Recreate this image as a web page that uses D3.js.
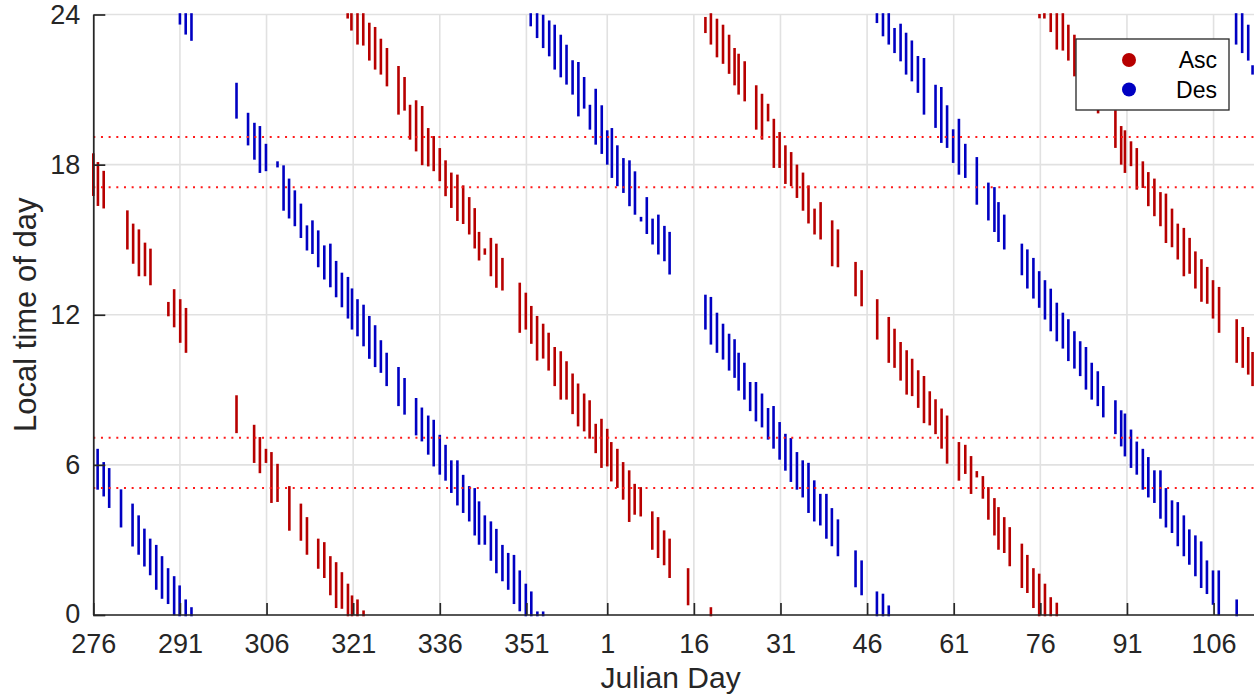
<!DOCTYPE html>
<html>
<head>
<meta charset="utf-8">
<script src="https://cdn.jsdelivr.net/npm/d3@7/dist/d3.min.js"></script>
<style>
  html, body { margin: 0; padding: 0; background: #fff; }
  svg { display: block; font-family: "Liberation Sans", Arial, Helvetica, sans-serif; }
</style>
</head>
<body>
<svg id="chart" width="1254" height="695"></svg>
<script>
// Day index runs on from the first year: day d of the following year is stored as d + 364.
const yearOffset = 364;

// Ascending passes: [day, lowest local hour, highest local hour] per daily column
const ascColumns = [
  [276.0,16.8,18.4],[276.8,16.4,18.05],[277.8,16.3,17.7],
  [281.9,14.66,16.12],[282.9,14.09,15.59],[283.9,13.59,15.36],[284.95,13.59,14.83],[285.9,13.23,14.59],
  [289.0,11.99,12.46],[290.0,11.55,12.97],[291.05,10.93,12.57],[292.05,10.53,12.22],
  [300.8,7.32,8.73],[303.85,6.13,7.55],[304.85,5.72,7.06],[305.9,6.13,6.59],[306.85,4.53,6.46],[307.9,4.57,5.99],
  [309.95,3.42,5.1],[311.95,3.02,4.4],[313.0,2.46,3.86],[314.95,1.9,3.0],[316.0,1.53,2.86],[317.05,0.84,2.3],
  [318.05,0.33,2.06],[319.05,0.3,1.66],[320.1,0,1.2],[320.8,0,0.73],[321.75,0,0.57],[322.8,0,0.13],
  [320.05,23.89,24],[320.7,23.41,24],[321.75,22.85,24],[322.75,22.81,24],[323.8,22.21,23.62],[324.8,21.85,23.45],
  [325.8,21.65,22.98],[326.85,21.18,22.61],[328.85,20.05,21.89],[329.9,20.21,21.45],[330.85,19.05,20.34],
  [331.9,18.58,20.52],[332.95,18.03,20.29],[334.0,17.98,19.41],[334.95,17.79,19.09],[336.0,17.39,18.61],
  [337.0,16.79,18.12],[338.0,16.32,17.63],[339.05,15.8,17.55],[340.05,15.68,17.12],[341.1,15.26,16.65],
  [342.05,14.7,16.21],[342.8,14.22,15.26],[343.8,14.45,14.6],[344.85,13.59,15.02],[345.8,13.13,14.79],
  [346.85,13.02,14.22],[349.85,11.33,13.23],[350.9,11.46,12.83],[351.85,10.89,12.3],[352.85,10.22,11.9],
  [353.9,10.3,11.59],[354.85,9.82,11.23],[355.9,9.2,10.66],[356.95,8.66,10.49],[357.95,8.66,10.09],
  [359.0,8.08,9.6],[359.95,7.59,9.2],[361.0,7.39,8.8],[361.95,7.1,8.53],[363.0,6.52,7.59],[364.0,5.93,7.79],
  [365.0,5.99,7.39],[365.7,5.39,6.86],[366.75,5.13,6.59],[367.75,4.66,6.06],[368.8,3.77,5.73],[369.75,4.06,5.19],
  [370.8,3.99,5.06],[372.8,2.66,4.09],[373.8,2.33,3.86],[374.85,2.04,3.33],[375.8,1.53,3.0],[379.0,0.44,1.82],
  [382.95,0,0.26],
  [382.0,23.31,23.85],[382.95,22.85,24],[384.0,22.34,23.78],[385.05,22.08,23.54],[386.1,21.68,23.14],
  [387.05,21.22,22.61],[387.75,20.85,22.38],[388.8,20.58,22.08],[390.8,19.45,21.12],[391.8,19.05,20.78],
  [392.85,19.78,20.38],[393.85,17.92,19.78],[394.85,17.92,19.25],[395.85,17.28,18.72],[396.85,17.19,18.45],
  [397.85,16.72,17.95],[398.9,16.21,17.63],[399.85,15.7,17.12],[400.9,15.26,16.19],[401.95,15.06,16.45],
  [403.95,13.99,15.72],[404.95,13.95,15.36],[408.0,12.79,14.06],[409.05,12.39,13.73],[411.75,11.06,12.57],
  [413.75,10.13,11.86],[414.75,9.93,11.39],[415.8,9.42,10.86],[416.85,8.86,10.53],[417.8,8.8,10.19],
  [418.85,8.33,9.73],[419.85,7.72,9.5],[420.85,7.63,8.89],[421.85,7.28,8.57],[422.9,6.7,8.2],[423.85,6.1,7.92],
  [425.9,5.42,6.86],[427.0,5.69,6.75],[428.0,4.89,6.3],[429.0,5.55,5.7],[430.05,4.7,5.5],[431.0,3.86,5.06],
  [432.05,3.23,4.62],[432.75,2.66,4.26],[433.75,2.53,3.86],[434.7,2.0,3.46],[436.8,1.13,2.8],[437.75,0.93,2.35],
  [438.8,0.33,1.82],[439.8,0,1.6],[440.8,0,1.2],[441.8,0,0.66],[442.85,0,0.44],
  [439.85,23.9,23.97],[440.7,23.89,24],[441.8,23.35,24],[442.85,22.65,24],[443.9,22.61,24],[444.85,22.21,23.54],
  [445.9,21.58,23.14],[450.0,20.1,20.3],[453.0,18.72,20.12],[454.0,18.05,19.49],[454.65,17.72,19.32],
  [455.7,17.99,18.88],[456.7,17.05,18.61],[457.75,17.12,18.08],[458.7,16.39,17.65],[459.75,15.99,17.39],
  [460.8,15.59,16.85],[461.75,14.92,16.79],[462.8,14.75,16.19],[463.8,14.26,15.59],[464.85,13.59,15.42],
  [465.85,13.69,15.02],[466.85,13.1,14.48],[467.9,12.57,14.17],[468.9,12.49,13.86],[469.9,11.9,13.33],
  [470.95,11.33,13.06],[474.0,10.13,11.77],[475.05,9.93,11.46],[476.0,9.66,11.06],[476.75,9.2,10.46]
];

// Descending passes: [day, lowest local hour, highest local hour] per daily column
const desColumns = [
  [276.75,5.06,6.59],[277.8,4.79,6.06],[278.75,4.33,5.82],[280.8,3.55,4.97],[282.8,2.79,4.4],[283.85,2.46,3.93],
  [284.85,1.99,3.4],[285.85,1.64,3.0],[286.9,1.06,2.75],[287.9,0.7,2.3],[288.95,0.49,1.82],[290.0,0.04,1.5],
  [290.95,0,1.13],[292.0,0,0.57],[293.0,0,0.26],
  [291.0,23.65,24],[292.0,23.25,24],[293.0,23.0,24],
  [300.8,19.89,21.22],[302.8,18.82,20.02],[303.9,18.25,19.62],[304.85,17.72,19.49],[305.9,17.79,18.78],
  [307.9,17.94,18.08],[308.95,16.21,17.92],[309.9,15.9,17.39],[310.9,15.59,16.92],[311.95,15.12,16.39],
  [313.0,14.62,15.52],[313.95,14.48,15.72],[314.95,13.95,15.32],[316.0,13.46,14.72],[317.05,13.15,14.79],
  [318.05,12.75,14.1],[319.05,12.35,13.63],[320.1,11.9,13.46],[320.8,11.46,13.0],[321.75,11.19,12.57],
  [322.8,10.79,12.35],[323.8,10.29,11.9],[324.8,9.96,11.53],[325.8,9.73,10.93],[326.8,9.2,10.43],
  [328.85,8.4,9.86],[329.9,8.06,9.42],[331.9,7.23,8.62],[332.9,6.99,8.24],[334.0,6.46,7.92],[334.95,5.99,7.75],
  [336.0,5.66,7.15],[337.0,5.42,6.75],[338.0,4.93,6.13],[339.05,4.43,6.13],[340.05,4.13,5.55],[341.1,3.79,5.1],
  [342.05,3.23,5.02],[342.8,2.86,4.49],[343.8,2.86,3.93],[344.85,2.22,3.69],[345.8,1.72,3.39],[346.85,1.4,2.75],
  [347.85,1.06,2.43],[348.85,0.49,2.35],[349.85,0.2,1.73],[350.9,0,1.2],[351.85,0,0.89],[352.9,0,0.09],[353.9,0,0.09],
  [351.75,23.58,24],[352.85,23.11,24],[353.9,22.71,23.94],[354.95,22.38,23.71],[355.9,21.85,23.54],
  [356.95,21.54,23.14],[357.95,21.25,22.74],[359.0,20.85,22.12],[360.0,19.98,22.05],[361.0,20.29,21.45],
  [362.0,19.45,20.34],[363.0,18.85,20.98],[364.05,18.48,20.32],[365.0,18.05,19.32],[365.8,17.52,19.41],
  [366.75,17.19,18.72],[367.8,16.92,18.21],[368.85,16.39,18.12],[369.8,16.05,17.68],[370.85,15.78,15.86],
  [371.85,15.28,16.65],[372.85,14.86,15.79],[373.85,14.46,15.95],[374.9,14.19,15.5],[375.8,13.66,15.26],
  [382.0,11.46,12.75],[382.95,10.86,12.66],[384.0,10.53,12.03],[385.05,10.26,11.59],[386.1,9.82,11.19],
  [387.05,9.53,10.97],[387.75,9.02,10.43],[388.75,8.66,10.03],[389.75,8.2,9.26],[390.75,7.79,9.26],
  [391.8,7.55,8.8],[392.85,7.06,8.22],[393.8,6.7,8.3],[394.85,6.26,7.66],[395.85,5.82,7.19],[396.8,5.37,7.02],
  [397.85,5.06,6.46],[398.85,4.75,6.13],[399.85,4.13,6.03],[400.85,3.79,5.33],[401.9,3.63,4.79],
  [402.95,3.1,4.79],[403.9,2.8,4.22],[404.95,2.4,3.77],[408.0,1.16,2.53],[409.05,0.84,2.13],
  [411.7,0,0.89],[412.75,0,0.8],[413.75,0,0.33],
  [411.7,23.71,24],[412.75,23.18,24],[413.75,22.85,24],[414.75,22.51,23.41],[415.8,22.18,23.58],
  [416.75,21.65,23.22],[417.75,21.38,22.91],[418.8,20.92,22.29],[419.85,20.05,22.21],[421.85,19.52,21.14],
  [422.85,18.92,21.05],[423.85,18.72,20.32],[424.9,18.12,19.36],[425.9,17.65,19.78],[427.0,17.52,18.78],
  [429.0,16.45,18.25],[431.0,15.82,17.23],[432.05,15.36,17.05],[432.75,14.96,16.45],[433.75,14.66,15.95],
  [436.8,13.63,14.79],[437.75,13.1,14.56],[438.8,12.7,14.22],[439.8,12.33,13.69],[440.8,11.86,13.33],
  [441.8,11.39,12.99],[442.85,10.99,12.43],[443.9,10.7,12.03],[444.85,10.2,11.77],[445.9,9.9,11.29],
  [446.9,9.6,10.89],[447.9,9.06,10.66],[448.9,8.66,10.03],[449.95,8.4,9.69],[450.9,7.95,9.1],
  [453.0,7.28,8.53],[454.0,6.79,8.13],[454.65,6.39,8.0],[455.7,5.93,7.36],[456.7,5.66,6.88],[457.75,5.06,6.59],
  [458.7,4.75,6.26],[459.75,4.53,5.73],[460.8,3.9,5.73],[461.75,3.55,5.02],[462.8,3.33,4.53],[463.8,2.8,4.46],
  [464.85,2.4,3.93],[465.8,2.06,3.37],[466.85,1.6,3.13],[467.85,1.13,2.89],[468.85,0.89,2.13],[469.9,0.46,1.73],
  [470.9,0.04,1.73],[474.0,0,0.57],
  [473.9,22.85,24],[474.95,22.51,24],[476.0,22.21,23.54],[476.75,21.65,21.92]
];

// Reference local-time levels marked with dotted lines
const referenceHours = [5.08, 7.08, 17.1, 19.1];

// Axis ticks
const firstYearTicks = [276, 291, 306, 321, 336, 351];
const secondYearTicks = [1, 16, 31, 46, 61, 76, 91, 106];
const hourTicks = [0, 6, 12, 18, 24];

const seriesNames = ["Asc", "Des"];
const seriesColors = ["#b70000", "#0000c2"];

const xTickValues = firstYearTicks.concat(secondYearTicks.map(d => d + yearOffset));
const xTickLabel = v => String(v >= 365 ? v - yearOffset : v);

const svg = d3.select("#chart");
const W = 1254, H = 695;
const m = { left: 93.3, right: 0, top: 14.5, bottom: 80 };

const x = d3.scaleLinear().domain([276, 477]).range([m.left, W - m.right]);
const y = d3.scaleLinear().domain([0, 24]).range([H - m.bottom, m.top]);

const ink = "#262626";
const gridColor = "#e1e1e1";

// Grid
const grid = svg.append("g");
grid.selectAll("line.vg").data(xTickValues).join("line")
  .attr("x1", d => x(d)).attr("x2", d => x(d))
  .attr("y1", y(0)).attr("y2", y(24))
  .attr("stroke", gridColor).attr("stroke-width", 1.6);
grid.selectAll("line.hg").data(hourTicks).join("line")
  .attr("x1", x(276)).attr("x2", W)
  .attr("y1", d => y(d)).attr("y2", d => y(d))
  .attr("stroke", gridColor).attr("stroke-width", 1.6);

// Daily columns of pass times
function drawColumns(data, color) {
  svg.append("g").selectAll("line").data(data).join("line")
    .attr("x1", d => x(d[0])).attr("x2", d => x(d[0]))
    .attr("y1", d => y(d[2])).attr("y2", d => y(d[1]))
    .attr("stroke", color)
    .attr("stroke-width", 2.6)
    .attr("stroke-linecap", "square");
}
drawColumns(ascColumns, seriesColors[0]);
drawColumns(desColumns, seriesColors[1]);

// Dotted reference lines
svg.append("g").selectAll("line").data(referenceHours).join("line")
  .attr("x1", x(276)).attr("x2", W)
  .attr("y1", d => y(d)).attr("y2", d => y(d))
  .attr("stroke", "#ff1a1a")
  .attr("stroke-width", 2)
  .attr("stroke-dasharray", "2 5.67");

// Axes (ticks point inward)
const tickLen = 12;
const xAxis = d3.axisBottom(x).tickValues(xTickValues).tickFormat(xTickLabel)
  .tickSizeInner(-tickLen).tickSizeOuter(0).tickPadding(18.5);
const yAxis = d3.axisLeft(y).tickValues(hourTicks).tickFormat(d3.format("d"))
  .tickSizeInner(-tickLen).tickSizeOuter(0).tickPadding(13);

const gx = svg.append("g").attr("transform", `translate(0,${y(0)})`).call(xAxis);
const gy = svg.append("g").attr("transform", `translate(${x(276)},0)`).call(yAxis);
[gx, gy].forEach(g => {
  g.select(".domain").attr("stroke", ink).attr("stroke-width", 1.7);
  g.selectAll(".tick line").attr("stroke", ink).attr("stroke-width", 1.7);
  g.selectAll(".tick text").attr("fill", ink).attr("font-size", 27)
    .attr("font-family", "'Liberation Sans', Arial, sans-serif");
});
gx.select(".domain").attr("d", `M${x(276)},0H${W}`);
// lift the lowest hour label slightly clear of the day labels
gy.selectAll(".tick").filter(d => d === 0).select("text").attr("y", -1.5);

// Axis titles
svg.append("text")
  .attr("x", (x(276) + W) / 2 - 3).attr("y", 688)
  .attr("text-anchor", "middle").attr("fill", ink).attr("font-size", 30)
  .text("Julian Day");
svg.append("text")
  .attr("transform", `translate(36,${(y(0) + y(24)) / 2}) rotate(-90)`)
  .attr("text-anchor", "middle").attr("fill", ink).attr("font-size", 31)
  .text("Local time of day");

// Legend
const lg = svg.append("g").attr("transform", "translate(1076,39)");
lg.append("rect").attr("width", 153).attr("height", 71)
  .attr("fill", "#fff").attr("stroke", ink).attr("stroke-width", 1.3);
seriesNames.forEach((name, i) => {
  const cy = 21 + i * 29.5;
  lg.append("circle").attr("cx", 53).attr("cy", cy).attr("r", 7).attr("fill", seriesColors[i]);
  lg.append("text").attr("x", 141).attr("y", cy).attr("dy", "0.35em")
    .attr("text-anchor", "end").attr("fill", "#000").attr("font-size", 23).text(name);
});
</script>
</body>
</html>
